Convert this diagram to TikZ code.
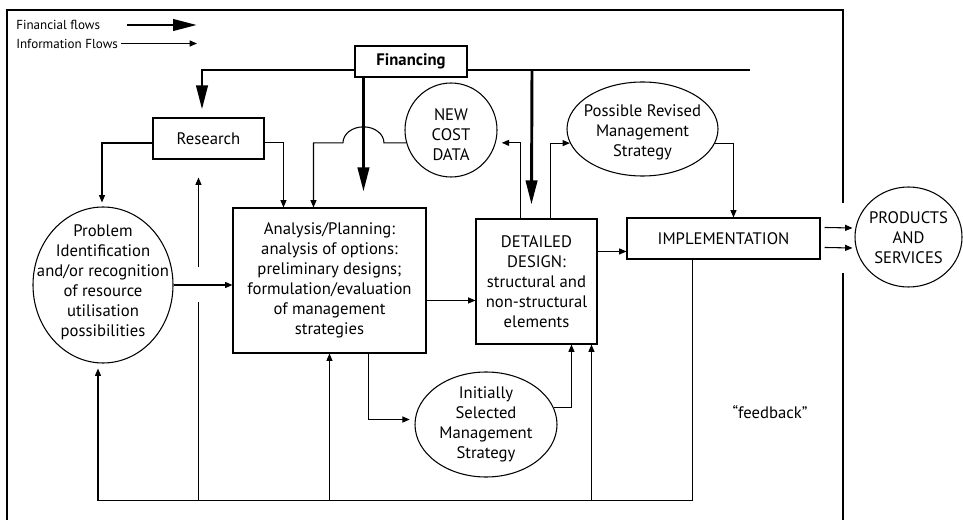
\documentclass[tikz,border=0pt]{standalone}
\usepackage{fontspec}
\setmainfont{PT Sans}
\usetikzlibrary{arrows.meta,shapes.geometric,calc}
\begin{document}
\begin{tikzpicture}[x=0.75pt,y=-0.75pt,
  mainfont/.style={font={\fontsize{12.5}{15}\selectfont}},
  box/.style={draw, line width=0.8pt, rectangle, inner sep=0pt, align=center, mainfont, fill=white},
  oval/.style={draw, line width=0.8pt, ellipse, inner sep=0pt},
  txt/.style={inner sep=0pt, align=center, mainfont},
  legend/.style={inner sep=0pt, anchor=west, font={\fontsize{9.8}{11}\selectfont}},
  frame/.style={line width=0.8pt},
  plain/.style={line width=0.8pt},
  info/.style={line width=0.8pt, -{Triangle[length=5.5pt,width=4.5pt]}},
  fin/.style={line width=2.2pt, line join=miter, -{Triangle[length=18pt,width=8.5pt]}},
]
\useasboundingbox (0,0) rectangle (963,520);
% frame
\draw[frame] (7,520) -- (7,10) -- (843,10) -- (843,203);
\draw[frame] (843,273) -- (843,520);

% legend
\node[legend] (lfin) at (16,25) {Financial flows};
\node[legend] (linfo) at (16,43.5) {Information Flows};
\draw[fin] (127,25) coordinate (lfinA) -- (197,25) coordinate (lfinB);
\draw[info] ($(linfo.east)+(3,0)$) -- (lfinB |- linfo.east);

% boxes
\node[box, minimum width=83.25pt, minimum height=30.75pt] (research) at (208.5,138.5) {Research};
\node[box, minimum width=144.75pt, minimum height=108.75pt] (analysis) at (329.5,280.5)
  {Analysis/Planning:\\analysis of options:\\preliminary designs;\\formulation/evaluation\\of management\\strategies};
\node[box, minimum width=90.75pt, minimum height=93.75pt] (detailed) at (536.5,281.5)
  {DETAILED\\DESIGN:\\structural and\\non-structural\\elements};
\node[box, minimum width=144.75pt, minimum height=30.75pt] (impl) at (723.5,238.5) {IMPLEMENTATION};

% ellipses
\node[oval, minimum width=105pt, minimum height=117pt] (problem) at (103,285) {};
\node[txt] (problemtxt) at (103,282.5) {Problem\\Identification\\and/or recognition\\of resource\\utilisation\\possibilities};
\node[oval, minimum width=69pt, minimum height=70.5pt] (newcost) at (451,130) {};
\node[txt] (newcosttxt) at (451,135) {NEW\\COST\\DATA};
\node[oval, minimum width=113.25pt, minimum height=70.5pt] (revised) at (642.5,129) {};
\node[txt] (revisedtxt) at (642.5,132.5) {Possible Revised\\Management\\Strategy};
\node[oval, minimum width=106.5pt, minimum height=78.75pt] (initial) at (486,424.5) {};
\node[txt] (initialtxt) at (486,424) {Initially\\Selected\\Management\\Strategy};
\node[oval, minimum width=80.25pt, minimum height=75pt] (products) at (908.5,237) {};
\node[txt] (productstxt) at (908.5,237.5) {PRODUCTS\\AND\\SERVICES};

\node[txt] (feedback) at (770,412) {“feedback”};

% financial flows
\coordinate (finL) at (202,70);
\coordinate (finR) at (750,70);
\draw[fin] (finR) -- (finL) -- ($(finL |- research.north)+(0,-8)$);
\node[box, minimum width=84pt, minimum height=23.25pt] (financing) at (411,61.5) {\bfseries Financing};
\coordinate (hop) at ($(financing.south west)+(9,0)$);
\draw[fin] (hop) -- ($(analysis.north west)+(131,-16)$);
\draw[fin] ($(finL)+(330,0)$) -- ($(detailed.north west)+(56,-14)$);

% information flows
\draw[info] ($(research.west)+(0,4.5)$) -| ($(problem.north)+(-1,-4)$);
\draw[info] ($(research.east)+(0,4)$) -| ($(analysis.north west)+(51,0)$);
\draw[info] (newcost.196) -- ($(hop |- newcost.196)+(20.5,0)$)
  arc[start angle=0, end angle=-180, x radius=20.5, y radius=16]
  -| ($(analysis.north west)+(81,0)$);
\draw[info] (problem.east) -- (problem.east -| analysis.west);
\draw[info] ($(analysis.north east)+(0,93)$) -- ($(detailed.north west)+(0,82)$);
\draw[info] ($(detailed.north east)+(0,33)$) -- ($(impl.north west)+(0,34)$);
\draw[info] ($(detailed.north west)+(45,0)$) |- ($(newcost.-16)+(6,0)$);
\draw[info] ($(detailed.north west)+(75,0)$) |- (revised.191);
\draw[info] (revised.-11) -| ($(impl.north west)+(107,0)$);
\draw[info] ($(analysis.south west)+(136,0)$) |- ($(initial.176)+(-5,0)$);
\draw[info] (initial.14) -| ($(detailed.south west)+(96,0)$);
\draw[info] ($(impl.north east)+(4,10)$) -- ($(products.west)+(-2,-9)$);
\draw[info] ($(impl.north east)+(4,30)$) -- ($(products.west)+(-2,11)$);

% feedback
\coordinate (fbR) at ($(impl.south west)+(66,0)$);
\draw[info] (fbR) -- ++(0,241) coordinate (fbcorner) -| ($(problem.south)+(-5,5)$);
\coordinate (ax) at ($(analysis.south west)+(97,0)$);
\draw[info] (fbcorner -| ax) -- (ax);
\coordinate (dx) at ($(detailed.south west)+(116,0)$);
\draw[info] (fbcorner -| dx) -- (dx);
\coordinate (rx) at ($(research.south west)+(46,0)$);
\draw[plain] (fbcorner -| rx) -- ($(rx |- problem.east)+(0,17)$);
\draw[info] ($(rx |- problem.east)+(0,-18)$) -- ($(rx)+(0,18)$);
\end{tikzpicture}
\end{document}
